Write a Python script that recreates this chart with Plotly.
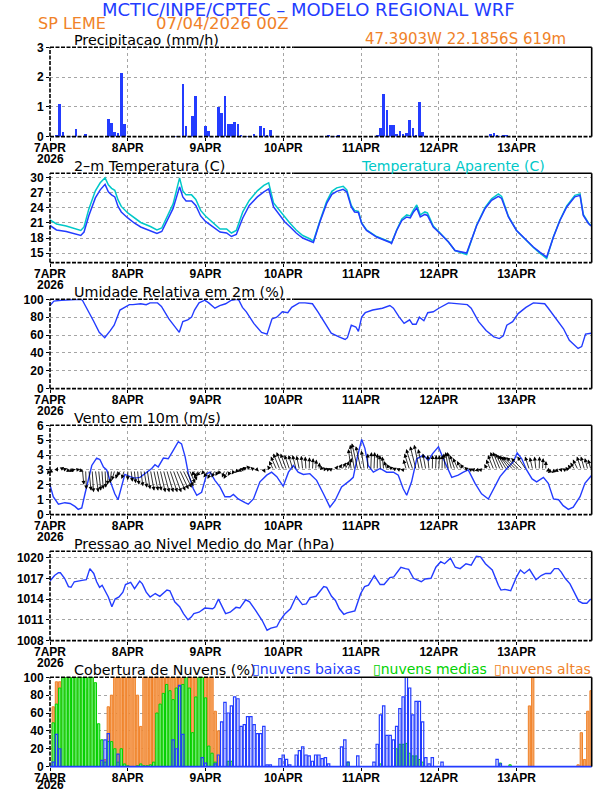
import plotly.graph_objects as go

# ---------------- data ----------------
day_ticks = [0, 24, 48, 72, 96, 120, 144]
day_labels = ["7APR", "8APR", "9APR", "10APR", "11APR", "12APR", "13APR"]
year_label = "2026"
hours = list(range(168))

precip_hours = [2, 3, 4, 7, 8, 9, 11, 18, 19, 20, 21, 22, 23, 38, 39, 41, 42, 44, 45, 48, 49,
                52, 53, 54, 55, 56, 57, 58, 59, 61, 62, 63, 65, 66, 67, 68, 77, 86, 88, 89, 91, 92,
                101, 102, 103, 104, 105, 106, 107, 108, 109, 110, 111, 112, 113, 114, 115, 116,
                136, 137, 138, 139, 140, 141]
precip_mm = [0.04, 1.08, 0.15, 0.02, 0.25, 0.02, 0.10, 0.58, 0.45, 0.15, 0.12, 2.12, 0.42, 0.02, 0.02,
             1.78, 0.35, 0.68, 1.35, 0.35, 0.18, 1.00, 0.78, 1.35, 0.42, 0.42, 0.48, 0.42, 0.05,
             0.02, 0.02, 0.08, 0.35, 0.28, 0.05, 0.22, 0.02, 0.06, 0.03, 0.05, 0.02, 0.02,
             0.07, 0.28, 1.42, 0.88, 0.38, 0.38, 0.10, 0.18, 0.10, 0.12, 0.55, 0.28, 0.05, 1.15,
             0.15, 0.03, 0.08, 0.12, 0.05, 0.03, 0.06, 0.05]

temp_hours = [0, 2, 5, 9.5, 10.5, 12, 14, 15.5, 17, 18, 19, 20, 21, 22, 24, 26, 28, 31, 33, 34.5,
              36, 38, 40, 41, 42, 43.7, 45, 46.5, 48, 50, 52.5, 54.5, 56, 57.5, 59.5, 61.5, 64, 66,
              67.5, 69, 71, 72.5, 74, 76, 78, 80, 81.3, 83.3, 85.4, 87, 88.5, 90.5, 91.6, 93, 94,
              95.2, 96.2, 97.7, 100.8, 105, 105.4, 107, 108.6, 110.1, 111.2, 112.2, 113.2, 114.3,
              115.7, 116.5, 118.3, 120.4, 123, 125, 128.6, 131.7, 134.3, 136.3, 138.4, 139.4,
              141.5, 144, 147, 149.2, 151.2, 153.3, 155.4, 157.4, 159.5, 162, 163.6, 164.6, 166.2, 167]
temp_2m = [20.5, 19.6, 19.3, 18.5, 19.2, 22.5, 26.0, 27.6, 28.7, 27.2, 26.6, 26.2, 24.3, 23.2, 22.0,
           21.0, 20.2, 19.5, 18.9, 19.3, 21.2, 23.9, 28.2, 26.2, 25.4, 25.4, 24.5, 22.4, 21.3, 20.4,
           19.2, 19.0, 18.3, 18.7, 22.0, 24.5, 26.2, 27.2, 27.8, 24.2, 22.5, 21.2, 20.3, 19.0, 18.0,
           17.4, 17.1, 21.2, 24.9, 26.7, 27.3, 27.7, 27.2, 24.2, 23.2, 23.1, 20.9, 19.5, 18.2, 17.1,
           16.9, 19.5, 21.5, 22.2, 22.0, 23.2, 24.0, 22.2, 22.7, 22.5, 20.2, 18.9, 17.2, 15.5, 15.0,
           20.5, 23.9, 25.5, 26.3, 25.9, 22.2, 19.5, 17.5, 16.2, 15.2, 14.2, 18.2, 21.5, 24.2, 26.2,
           26.5, 22.5, 20.9, 20.4]
temp_apparent = [21.6, 20.8, 20.4, 19.5, 20.2, 23.8, 27.4, 29.0, 30.0, 28.6, 27.9, 27.5, 25.6, 24.3,
                 23.0, 22.0, 21.1, 20.3, 19.6, 20.0, 22.0, 24.8, 30.0, 27.4, 26.6, 26.6, 25.7, 23.5,
                 22.4, 21.3, 19.8, 19.8, 19.0, 19.5, 23.2, 25.5, 27.4, 28.5, 29.0, 25.0, 23.4, 22.0,
                 21.0, 19.6, 18.5, 17.9, 17.4, 21.4, 25.3, 27.3, 28.0, 28.3, 27.6, 24.5, 23.5, 23.3,
                 21.0, 19.6, 18.3, 17.2, 17.0, 19.6, 21.8, 22.6, 22.4, 23.6, 24.6, 22.6, 23.2, 23.0,
                 20.4, 19.0, 17.2, 15.5, 14.7, 20.6, 24.1, 25.8, 26.8, 26.3, 22.3, 19.5, 17.5, 16.1,
                 15.0, 13.9, 18.3, 21.6, 24.4, 26.5, 26.8, 22.7, 21.0, 20.5]

rh_hours = [0, 1.2, 3.5, 9.3, 10, 11.7, 13.4, 15.2, 16.9, 18.6, 19.8, 21.6, 22.7, 24.5, 25.6, 28,
            29.7, 30.9, 33.2, 34.4, 36.7, 38.5, 39.9, 41, 42.5, 43.7, 44.6, 46, 47.8, 49, 50.9, 52.4,
            54.2, 56, 57.7, 58.3, 59.4, 60.6, 62.9, 65.3, 67, 68.5, 70, 71.7, 73.4, 74.6, 76.9, 78.7,
            81, 82.7, 84.5, 86.8, 89.2, 91.1, 91.8, 93, 94.4, 95.2, 96.2, 97.3, 99.6, 102.6, 104.9,
            106, 107.8, 109.3, 111, 111.9, 113, 114, 115.4, 116.6, 118.3, 120, 123, 125.9, 128.8,
            130, 132.3, 134.6, 137, 138.7, 139.9, 141, 142.8, 144.5, 146.9, 149.2, 152.7, 153.8,
            156.2, 158.5, 160.3, 163, 164.1, 165.3, 167]
rh_values = [93, 98, 99, 100, 99, 88, 76, 63, 57, 65, 71, 88, 90, 94, 94, 95, 94, 96, 96, 92, 78, 69,
             63, 75, 77, 80, 88, 96, 99, 96, 90, 93, 95, 99, 100, 99, 91, 86, 73, 63, 61, 78, 80, 86,
             85, 91, 96, 96, 95, 86, 75, 62, 58, 55, 57, 71, 69, 64, 80, 85, 88, 90, 93, 90, 80, 73,
             77, 72, 72, 80, 76, 85, 86, 90, 96, 95, 94, 90, 75, 65, 58, 56, 59, 71, 75, 84, 91, 96,
             95, 90, 78, 67, 54, 45, 47, 61, 62]

wind_hours = [0, 1, 2.6, 4.6, 6.2, 7.7, 8.7, 9.8, 10.8, 11.8, 12.9, 14.4, 15.4, 16.5, 17.5, 18.5, 20,
              21, 22.1, 23.1, 24.7, 26.2, 27.8, 29.8, 31.4, 32.4, 33.4, 35, 36.5, 38, 39.6, 40.6, 41.7,
              42.7, 44.2, 45.3, 46.8, 48.4, 49.4, 50.9, 52.5, 54, 55.6, 56.6, 58.1, 60.2, 61.2, 62.8,
              64.8, 66.9, 68.4, 70, 72, 73.6, 75.1, 76.6, 78.2, 80.2, 82.3, 84.4, 86.4, 88, 90, 92.6,
              93.6, 94.9, 96.2, 97.2, 98.2, 99.8, 101.9, 103.9, 106, 107.5, 109, 110.1, 111.6, 113.2,
              115.2, 116.8, 118.1, 119.9, 121.4, 124, 126, 127.6, 129.1, 131.2, 133.2, 135.3, 136.8,
              138.9, 141, 143, 144.2, 145.6, 147.1, 148.8, 150.2, 152.3, 153.8, 155.4, 157, 158.4,
              160, 161.5, 163.6, 165.1, 167.2]
wind_speed = [2.0, 1.2, 0.7, 0.8, 0.75, 0.55, 0.35, 0.45, 1.4, 2.4, 3.3, 3.8, 3.7, 3.2, 3.0, 2.3, 1.4,
              1.0, 1.85, 2.7, 2.55, 2.45, 2.5, 2.85, 3.1, 3.35, 3.2, 3.8, 3.75, 4.3, 4.9, 4.75, 3.9,
              2.75, 1.75, 1.3, 1.5, 2.75, 2.85, 2.3, 1.85, 1.2, 1.2, 1.35, 1.05, 0.8, 0.7, 1.05, 2.2,
              2.65, 2.85, 2.55, 1.9, 2.85, 3.3, 2.85, 2.7, 2.75, 2.3, 1.4, 0.5, 0.95, 1.85, 2.3, 2.5,
              3.9, 5.05, 4.45, 3.3, 2.85, 3.1, 2.85, 2.85, 2.65, 1.75, 1.3, 2.2, 3.75, 4.0, 3.65, 4.1,
              4.55, 3.75, 2.5, 2.65, 2.85, 3.0, 2.1, 1.4, 1.05, 1.65, 2.55, 3.1, 3.55, 4.15, 3.75, 3.0,
              2.4, 2.2, 2.5, 2.1, 1.05, 1.0, 0.6, 0.35, 0.5, 1.2, 2.1, 2.65]

# hourly wind vectors (east and north components, in the panel's m/s units)
vec_u = [-0.2, -0.3, 0.1, 0.3, 0.3, 0.3, 0.3, 0.2, 0.3, 0.3, 0.1, 0.05, 0.15, 0.1, 0.2, 0.15, 0.1, 0.05, -0.05, -0.1, -0.2, -0.15, -0.3, -0.2,
         0.0, 0.1, 0.1, 0.1, 0.15, 0.2, 0.2, 0.25, 0.3, 0.3, 0.35, 0.4, 0.45, 0.5, 0.55, 0.6, 0.6, 0.6, 0.5, 0.4, 0.3, -0.3, -0.35, -0.4,
         -0.3, -0.35, -0.3, -0.25, -0.2, -0.3, -0.2, -0.3, -0.25, -0.2, -0.2, -0.25, -0.3, -0.35, -0.3, -0.25, 0.1, 0.15, 0.1, 0.05, -0.2, -0.3, -0.4, -0.45,
         -0.45, -0.4, -0.35, -0.3, -0.25, -0.2, -0.1, -0.05, 0.02, 0.05, 0.05, 0.05, -0.1, -0.15, -0.2, -0.25, 0.2, 0.25, 0.3, 0.3, 0.25, -0.2, -0.3, -0.4,
         -0.35, -0.2, 0.02, 0.05, 0.05, 0.02, -0.05, -0.1, -0.2, -0.25, -0.3, -0.3, -0.25, -0.2, -0.2, -0.35, -0.45, -0.4, -0.35, -0.3, -0.2, -0.1, 0.02, 0.05,
         0.05, 0.02, -0.1, -0.2, -0.3, -0.35, -0.35, -0.3, -0.3, -0.25, -0.2, -0.25, -0.2, -0.2, -0.15, -0.2, -0.3, -0.4, -0.45, -0.5, -0.55, -0.6, -0.7, -0.8,
         -0.9, -0.9, -0.8, -0.6, -0.3, -0.2, -0.1, 0.02, 0.05, 0.02, -0.2, -0.3, -0.25, -0.3, -0.25, -0.2, -0.2, -0.25, -0.3, -0.35, -0.3, -0.25, -0.2, -0.2]
vec_v = [-0.3, -0.2, 0.2, 0.2, 0.1, -0.1, -0.1, 0.05, 0.05, -0.1, -1.0, -1.3, -1.4, -1.5, -1.5, -1.4, -1.3, -1.2, -1.0, -0.9, -0.7, -0.6, -0.4, -0.6,
         -0.7, -0.8, -0.9, -1.0, -1.1, -1.2, -1.3, -1.4, -1.4, -1.4, -1.5, -1.5, -1.5, -1.5, -1.5, -1.4, -1.3, -1.2, -1.1, -0.9, -0.7, -0.4, -0.5, -0.4,
         -0.3, -0.5, -0.6, -0.5, -0.4, -0.3, -0.5, -0.6, -0.4, -0.3, -0.2, -0.1, 0.1, 0.2, 0.3, 0.2, -0.1, -0.15, -0.2, -0.15, 0.3, 0.6, 0.9, 1.1,
         1.2, 1.1, 1.0, 1.0, 1.0, 0.95, 0.95, 0.9, 0.85, 0.8, 0.7, 0.5, 0.3, 0.2, 0.15, 0.1, 0.3, 0.4, 0.5, 0.6, 0.8, 1.4, 1.7, 1.8,
         1.6, 1.3, 1.1, 1.2, 1.2, 1.1, 1.0, 0.9, 0.6, 0.4, 0.25, 0.15, 0.1, 0.05, 0.7, 1.1, 1.4, 1.6, 1.7, 1.4, 1.1, 1.0, 1.0, 1.0,
         1.0, 1.0, 1.1, 1.2, 1.2, 1.0, 0.8, 0.6, 0.4, 0.2, 0.1, 0.05, -0.05, 0.05, 0.15, 0.4, 0.7, 1.0, 1.2, 1.2, 1.1, 1.0, 0.95, 0.9,
         0.9, 0.85, 0.8, 0.9, 0.9, 0.85, 0.9, 0.9, 0.8, 0.6, -0.1, -0.2, -0.2, -0.1, 0.05, 0.1, 0.2, 0.35, 0.5, 0.7, 0.9, 0.9, 0.8, 0.7]

slp_hours = [0, 1.4, 2.6, 3.2, 4.5, 5.7, 6.5, 7.5, 9.9, 11.2, 12.3, 13.5, 14.4, 15.3, 16.1, 17.1, 18,
             19.1, 20.1, 21.3, 22.5, 23.3, 24.9, 26.1, 27.7, 28.5, 29.7, 30.9, 32.5, 33.9, 36.1, 37,
             38.5, 40, 41.2, 42.6, 43.6, 44.4, 46, 47.8, 50.2, 50.8, 52, 54.2, 55.6, 57.4, 58.6, 60.4,
             61.6, 63.4, 64.6, 65.5, 67, 68.2, 70, 71, 72.4, 74.2, 76, 77.9, 79.1, 80.3, 82.1, 84.5,
             85.4, 86.9, 88.1, 89.3, 90.7, 91.7, 94.1, 95.9, 97.1, 98.3, 100.1, 101.9, 103.1, 104.9,
             106.1, 108.3, 109.7, 110.7, 112.2, 114.6, 115.8, 117.6, 119.1, 120.6, 121.8, 123.6,
             125.1, 126.6, 128.4, 130, 131.6, 132.9, 134.4, 136.5, 138.4, 139.2, 140.4, 142.2, 144,
             145.2, 146.4, 148, 150, 151.6, 153, 154.5, 155.7, 156.9, 157.8, 159, 160.5, 162, 163.2,
             164.4, 165.7, 166.9]
slp_values = [1016.6, 1017.4, 1017.8, 1017.8, 1017.0, 1015.8, 1015.7, 1016.5, 1016.7, 1016.8, 1018.4,
              1017.7, 1016.5, 1015.7, 1016.0, 1015.0, 1014.3, 1012.9, 1014.0, 1014.3, 1015.0, 1016.1,
              1016.4, 1015.5, 1016.6, 1016.2, 1015.0, 1014.3, 1014.8, 1014.4, 1015.3, 1015.2, 1013.6,
              1012.9, 1011.9, 1011.0, 1011.4, 1011.9, 1012.1, 1012.7, 1012.6, 1012.8, 1014.0, 1011.9,
              1012.1, 1012.8, 1012.7, 1013.9, 1013.6, 1012.4, 1011.6, 1010.9, 1009.5, 1009.8, 1010.0,
              1010.9, 1011.8, 1012.6, 1014.4, 1013.2, 1013.3, 1014.2, 1014.4, 1015.8, 1015.7, 1014.4,
              1013.8, 1012.6, 1011.8, 1012.0, 1012.3, 1014.8, 1015.8, 1016.0, 1017.4, 1016.1, 1016.1,
              1017.1, 1017.2, 1018.6, 1018.4, 1018.3, 1017.0, 1016.5, 1016.9, 1017.0, 1018.6, 1019.4,
              1019.1, 1019.9, 1018.6, 1018.4, 1019.1, 1018.9, 1020.2, 1020.1, 1019.1, 1018.2, 1016.0,
              1015.3, 1015.4, 1015.2, 1017.2, 1018.2, 1017.7, 1018.3, 1016.8, 1017.4, 1017.7, 1017.7,
              1018.4, 1018.4, 1017.9, 1017.0, 1016.2, 1014.8, 1013.7, 1013.4, 1013.4, 1014.0]

# hourly cloud cover (%), one row per day
cloud_low = [0, 5, 36, 20, 0, 0, 0, 0, 0, 0, 0, 0, 0, 0, 0, 0, 7, 30, 37, 0, 0, 14, 0, 0,
             0, 0, 0, 0, 0, 0, 0, 0, 0, 0, 0, 0, 0, 0, 30, 20, 91, 36, 0, 0, 0, 0, 0, 10,
             4, 0, 0, 3, 13, 50, 72, 60, 68, 78, 76, 45, 47, 56, 56, 47, 37, 37, 45, 2, 2, 0, 0, 9,
             13, 8, 2, 0, 13, 18, 22, 13, 12, 6, 13, 13, 9, 10, 3, 0, 0, 0, 22, 30, 5, 0, 0, 12,
             0, 0, 0, 0, 5, 25, 58, 68, 35, 35, 30, 45, 65, 78, 100, 88, 58, 73, 73, 50, 10, 3, 10, 0,
             0, 5, 0, 0, 0, 0, 0, 0, 0, 0, 0, 0, 0, 0, 0, 0, 0, 0, 8, 3, 0, 0, 0, 0,
             0, 0, 0, 0, 0, 0, 0, 0, 0, 0, 0, 0, 0, 0, 0, 0, 0, 0, 0, 0, 0, 0, 0, 0]
cloud_mid = [0, 49, 70, 88, 100, 100, 100, 100, 100, 100, 100, 100, 100, 100, 94, 48, 30, 5, 28, 28, 20, 5, 20, 3,
             1, 0, 0, 1, 3, 1, 1, 2, 5, 60, 70, 82, 92, 85, 75, 88, 90, 92, 100, 88, 38, 78, 100, 100,
             77, 23, 15, 5, 0, 0, 0, 6, 6, 0, 0, 0, 0, 0, 0, 0, 0, 0, 0, 0, 0, 0, 0, 0,
             0, 0, 0, 0, 0, 0, 0, 0, 0, 0, 0, 0, 0, 0, 0, 0, 0, 0, 0, 0, 5, 0, 0, 0,
             0, 0, 0, 0, 0, 0, 3, 0, 0, 0, 0, 20, 25, 25, 26, 15, 12, 12, 8, 5, 0, 0, 0, 0,
             0, 0, 0, 0, 0, 0, 0, 0, 0, 0, 0, 0, 0, 0, 0, 0, 0, 0, 0, 4, 0, 0, 2, 0,
             0, 0, 0, 0, 0, 0, 0, 0, 0, 0, 0, 0, 0, 0, 0, 0, 0, 0, 0, 0, 0, 0, 0, 0]
cloud_high = [0, 67, 95, 95, 100, 100, 100, 100, 100, 100, 100, 87, 100, 100, 85, 30, 18, 8, 67, 80, 100, 100, 100, 100,
              100, 100, 100, 80, 45, 100, 100, 100, 100, 100, 100, 100, 100, 100, 100, 100, 100, 100, 100, 100, 100, 100, 100, 100,
              100, 100, 100, 62, 40, 0, 0, 0, 0, 0, 0, 0, 0, 0, 0, 0, 0, 0, 0, 0, 0, 0, 0, 0,
              0, 0, 0, 0, 0, 0, 0, 0, 0, 0, 0, 0, 0, 0, 0, 0, 0, 0, 0, 0, 0, 0, 0, 0,
              0, 0, 0, 0, 0, 0, 0, 0, 0, 0, 0, 0, 0, 0, 0, 0, 0, 0, 0, 0, 0, 0, 0, 0,
              0, 0, 0, 0, 0, 0, 0, 0, 0, 0, 0, 0, 0, 0, 0, 0, 0, 0, 0, 0, 0, 0, 0, 0,
              0, 0, 0, 0, 68, 100, 0, 0, 0, 0, 0, 0, 0, 0, 0, 0, 0, 0, 0, 2, 38, 8, 62, 85]

# ---------------- style / layout ----------------
FW, FH = 612, 792
X0, X1 = 50.0, 591.7         # page pixels of the plot frame
TOPS = [47.3, 173.3, 299.3, 425.3, 551.3, 677.3]
PH = 89.3
XR = [0, 167.2]
BLUE = "rgb(35,60,255)"
CYAN = "rgb(0,200,200)"
ORANGE = "rgb(240,130,40)"
GREEN = "rgb(0,210,0)"
GRID = "rgb(165,165,165)"
TITLE_FONT = "DejaVu Sans"
TICK_FONT = dict(family="Liberation Sans Narrow, Liberation Sans, Arial", size=12, color="black", weight="bold")


def px_x(x):
    return x / FW


def px_y(y):
    return 1 - y / FH


yranges = [[0, 3], [13.1, 30.9], [0, 100], [0, 6], [1008, 1020.9], [0, 100]]
yticks = [[0, 1, 2, 3], [15, 18, 21, 24, 27, 30], [0, 20, 40, 60, 80, 100],
          [0, 1, 2, 3, 4, 5, 6], [1008, 1011, 1014, 1017, 1020], [0, 20, 40, 60, 80, 100]]

fig = go.Figure()


def ax(i):
    return ("x" if i == 0 else f"x{i+1}"), ("y" if i == 0 else f"y{i+1}")


# panel 1: precipitation
fig.add_trace(go.Bar(x=precip_hours, y=precip_mm, width=0.82, marker=dict(color=BLUE, line=dict(width=0)),
                     xaxis="x", yaxis="y"))
# panel 2: temperature
fig.add_trace(go.Scatter(x=temp_hours, y=temp_apparent, mode="lines", line=dict(color=CYAN, width=1.5),
                         xaxis="x2", yaxis="y2"))
fig.add_trace(go.Scatter(x=temp_hours, y=temp_2m, mode="lines", line=dict(color=BLUE, width=1.5),
                         xaxis="x2", yaxis="y2"))
# panel 3: humidity
fig.add_trace(go.Scatter(x=rh_hours, y=rh_values, mode="lines", line=dict(color=BLUE, width=1.4),
                         xaxis="x3", yaxis="y3", cliponaxis=False))
# panel 4: wind speed
fig.add_trace(go.Scatter(x=wind_hours, y=wind_speed, mode="lines", line=dict(color=BLUE, width=1.4),
                         xaxis="x4", yaxis="y4"))
# panel 5: pressure
fig.add_trace(go.Scatter(x=slp_hours, y=slp_values, mode="lines", line=dict(color=BLUE, width=1.4),
                         xaxis="x5", yaxis="y5"))
# panel 6: clouds
fig.add_trace(go.Bar(x=hours, y=cloud_high, width=0.72,
                     marker=dict(color="rgb(246,168,105)", line=dict(color=ORANGE, width=1)),
                     xaxis="x6", yaxis="y6"))
fig.add_trace(go.Bar(x=hours, y=cloud_mid, width=0.72,
                     marker=dict(color="rgb(120,235,120)", line=dict(color=GREEN, width=1)),
                     xaxis="x6", yaxis="y6"))
fig.add_trace(go.Bar(x=hours, y=cloud_low, width=0.72,
                     marker=dict(color="rgba(255,255,255,0)", line=dict(color=BLUE, width=1.2)),
                     xaxis="x6", yaxis="y6"))

annotations = []

# axes
for i in range(6):
    xn, yn = ax(i)
    top = TOPS[i]
    bot = top + PH
    xkey = "xaxis" if i == 0 else f"xaxis{i+1}"
    ykey = "yaxis" if i == 0 else f"yaxis{i+1}"
    fig.layout[xkey] = dict(domain=[px_x(X0), px_x(X1)], range=XR, anchor=yn, tickmode="array",
                            tickvals=day_ticks, ticktext=day_labels, ticks="outside", ticklen=3,
                            tickcolor="black", tickwidth=1, showgrid=True, gridcolor=GRID, griddash="dot",
                            gridwidth=1, zeroline=False, showline=False, tickfont=TICK_FONT, fixedrange=True,
                            automargin=False, ticklabelstandoff=-3)
    fig.layout[ykey] = dict(domain=[px_y(bot), px_y(top)], range=yranges[i], anchor=xn, tickmode="array",
                            tickvals=yticks[i], ticks="outside", ticklen=3, tickcolor="black", tickwidth=1,
                            showgrid=True, gridcolor=GRID, griddash="dot", gridwidth=1, zeroline=False,
                            showline=False, tickfont=TICK_FONT, fixedrange=True, automargin=False)
    # year under the first day label
    year_y = min(bot + 22.5, 785)
    annotations.append(dict(text=year_label, x=day_ticks[0], xref=xn, y=px_y(year_y), yref="paper",
                            xanchor="center", yanchor="middle", showarrow=False, font=TICK_FONT))

shapes = []
for i in range(6):
    xn, yn = ax(i)
    xd, yd = xn + " domain", yn + " domain"
    dash = dict(color="black", width=1.6, dash="4px,1.5px")
    solid = dict(color="black", width=1.6)
    bottom_line = dict(color=BLUE, width=1.6) if i == 5 else dash
    shapes += [
        dict(type="line", xref=xd, yref=yd, x0=0, x1=0, y0=0, y1=1, line=dash),
        dict(type="line", xref=xd, yref=yd, x0=0, x1=1, y0=0, y1=0, line=bottom_line),
        dict(type="line", xref=xd, yref=yd, x0=0, x1=0.45, y0=1, y1=1, line=dash),
        dict(type="line", xref=xd, yref=yd, x0=0.45, x1=1, y0=1, y1=1, line=solid),
        dict(type="line", xref=xd, yref=yd, x0=1, x1=1, y0=0, y1=1, line=solid),
    ]

# wind vectors drawn from the 3 m/s baseline
UX = 4.59  # hours per m/s so that vectors keep their true direction on screen
for h, u, v in zip(hours, vec_u, vec_v):
    annotations.append(dict(x=h + u * UX, y=3 + v, ax=h, ay=3, xref="x4", yref="y4", axref="x4", ayref="y4",
                            showarrow=True, arrowhead=2, arrowsize=1.0, arrowwidth=0.8, arrowcolor="black",
                            text="", standoff=0, startstandoff=0))


def txt(s, x, y, color="black", size=14, xanchor="left"):
    annotations.append(dict(text=s, x=px_x(x), y=px_y(y), xref="paper", yref="paper", xanchor=xanchor,
                            yanchor="middle", showarrow=False,
                            font=dict(family=TITLE_FONT, size=size, color=color)))


txt("MCTIC/INPE/CPTEC – MODELO REGIONAL WRF", 308, 9.5, BLUE, 18, "center")
txt("SP LEME", 36, 23, ORANGE, 16)
txt("07/04/2026 00Z", 154, 23, ORANGE, 16.5)
txt("47.3903W 22.1856S 619m", 568, 39, ORANGE, 15, "right")
titles = ["Precipitacao (mm/h)", "2–m Temperatura (C)", "Umidade Relativa em 2m (%)",
          "Vento em 10m (m/s)", "Pressao ao Nivel Medio do Mar (hPa)", "Cobertura de Nuvens (%)"]
for t, top in zip(titles, TOPS):
    txt(t, 72, top - 7, "black", 14.3)
txt("Temperatura Aparente (C)", 359, TOPS[1] - 7, CYAN, 14)
txt("▯nuvens baixas", 250, TOPS[5] - 8, BLUE, 14)
txt("▯nuvens medias", 371, TOPS[5] - 8, GREEN, 14)
txt("▯nuvens altas", 492, TOPS[5] - 8, ORANGE, 14)

fig.update_layout(width=FW, height=FH, margin=dict(l=0, r=0, t=0, b=0, autoexpand=False), paper_bgcolor="white",
                  plot_bgcolor="white", showlegend=False, barmode="overlay", shapes=shapes,
                  annotations=annotations, bargap=0)

fig.write_html("out.html", config={"displayModeBar": False, "staticPlot": True},
               post_script="document.body.style.margin='0px';")
